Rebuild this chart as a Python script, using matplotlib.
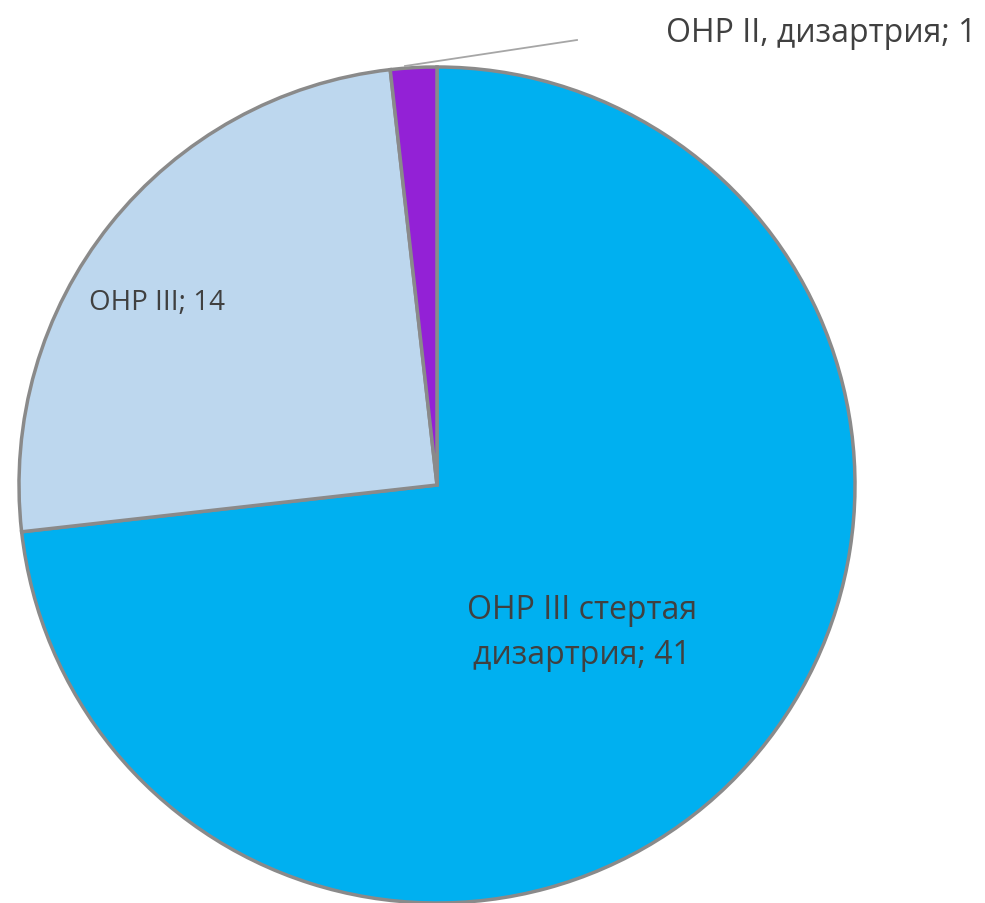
import matplotlib.pyplot as plt

categories = ['ОНР III стертая\nдизартрия', 'ОНР III', 'ОНР II, дизартрия']
values = [41, 14, 1]
colors = ['#00B0F0', '#BDD7EE', '#9321D6']

plt.rcParams['font.family'] = ['Open Sans', 'DejaVu Sans']

fig = plt.figure(figsize=(9.85, 9.04), dpi=100)
ax = fig.add_axes([0, 0, 1, 1])

ax.pie(values, colors=colors, startangle=90, counterclock=False,
       center=(437, 418), radius=418,
       wedgeprops=dict(edgecolor='#8a8a8a', linewidth=2.5))
ax.set_xlim(0, 985)
ax.set_ylim(0, 904)
ax.set_aspect('equal')
ax.axis('off')

txt = '#404040'
ax.text(582, 271, '{}; {}'.format(categories[0], values[0]), ha='center',
        va='center', fontsize=23, color=txt, linespacing=1.5)
ax.text(157, 601, '{}; {}'.format(categories[1], values[1]), ha='center',
        va='center', fontsize=20, color=txt)
ax.text(821, 871, '{}; {}'.format(categories[2], values[2]), ha='center',
        va='center', fontsize=23, color=txt)
ax.plot([405, 577], [837, 863], color='#a6a6a6', linewidth=1.3)

plt.savefig('out.png', dpi=100)
